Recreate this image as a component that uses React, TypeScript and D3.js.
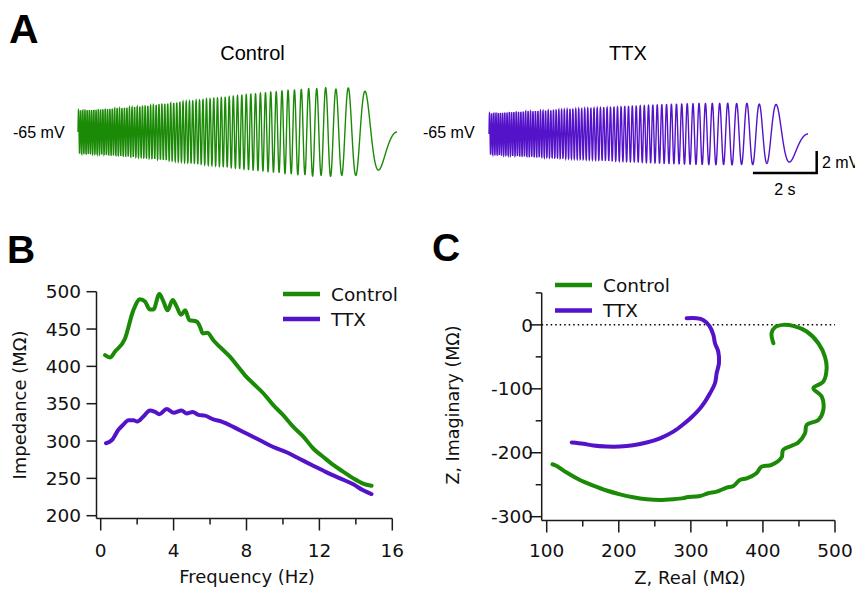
import React from "react";
import * as d3 from "d3";

// ---------- Data ----------
// Panel B: impedance profile (frequency in Hz, impedance in MΩ)
const freqControl = [0.24, 0.51, 0.79, 1.33, 1.79, 2.16, 2.43, 2.7, 2.89, 3.22, 3.44, 3.67, 3.95, 4.17, 4.4, 4.64, 4.86, 5.27, 5.45, 5.6, 5.85, 6.18, 6.54, 7.09, 7.46, 7.92, 8.37, 8.92, 9.47, 10.0, 10.57, 11.12, 11.66, 12.2, 12.76, 13.3, 13.86, 14.4, 14.86];
const zControl = [415, 412, 420, 437, 475, 490, 487, 476, 476, 497, 487, 475, 489, 480, 469, 475, 462, 460, 453, 444, 445, 435, 426, 413, 402, 388, 377, 364, 348, 335, 319, 306, 290, 279, 268, 259, 250, 243, 240];
const freqTTX = [0.29, 0.6, 0.97, 1.24, 1.52, 1.79, 2.01, 2.34, 2.7, 2.98, 3.22, 3.62, 3.99, 4.44, 4.72, 5.05, 5.36, 5.72, 6.18, 6.64, 7.28, 8.0, 8.74, 9.47, 10.2, 10.93, 11.66, 12.4, 13.13, 13.86, 14.4, 14.86];
const zTTX = [297, 301, 315, 322, 328, 328, 326, 333, 341, 339, 336, 343, 338, 341, 337, 339, 335, 334, 329, 326, 319, 310, 301, 292, 285, 276, 267, 258, 250, 242, 234, 229];

// Panel C: Nyquist plot (real / imaginary impedance, MΩ)
const realControl = [414.5, 412, 416.8, 428, 442, 460.7, 476.9, 486, 488.4, 483.8, 470, 481.5, 483.8, 476.9, 460.7, 458.4, 449, 428, 426, 412, 398, 391, 377.5, 368, 359, 349.7, 335.8, 324, 312.7, 294, 289.6, 275.7, 257, 238.7, 220, 201.7, 183, 164.7, 146, 127.7, 113.9, 108];
const imagControl = [-28.7, -13, -3.7, 0, -1.6, -10.4, -28.7, -49.6, -67.8, -88.7, -99, -112, -133, -148.7, -156.5, -169.5, -184, -195.6, -207, -219, -221.7, -232, -240, -242.6, -252, -254.6, -260.8, -263.4, -267.6, -269.7, -271, -272.8, -274, -272.8, -269.7, -265, -259, -251.4, -242.6, -231, -220.7, -218];
const realTTX = [294.2, 308, 317, 325.7, 331.2, 333.5, 338, 339, 335.8, 333.5, 326.6, 319.7, 311.8, 301, 289.6, 275.7, 257.2, 238.7, 220, 201.7, 183, 164.7, 150.9, 134.7];
const imagTTX = [10.4, 10.4, 7.8, -1.6, -15.6, -28.7, -41.7, -60, -75.6, -91.3, -107, -120, -132, -144.5, -155.5, -167, -177.4, -184, -188.3, -190.4, -190.4, -188.8, -186, -184];

// Panel A: chirp protocol (reverse chirp 15 Hz -> 0 Hz over 10 s)
const chirpStartHz = 15;
const chirpDurationS = 10;
const baselineMV = -65;
const stimulusNA = 0.0082; // MΩ * nA = mV
const scaleBarMV = 2;
const scaleBarS = 2;

// Ticks
const bXTicks = [0, 2, 4, 6, 8, 10, 12, 14, 16];
const bXLabels = [0, 4, 8, 12, 16];
const bYTicks = [200, 250, 300, 350, 400, 450, 500];
const cXTicks = [100, 150, 200, 250, 300, 350, 400, 450, 500];
const cXLabels = [100, 200, 300, 400, 500];
const cYTicks = [50, 0, -50, -100, -150, -200, -250, -300];
const cYLabels = [0, -100, -200, -300];

const GREEN = "#1b8a07";
const PURPLE = "#5412c9";
const AXIS = "#1a1a1a";
const GENEVA = "'DejaVu Sans', Verdana, sans-serif";
const ARIAL = "'Liberation Sans', Arial, sans-serif";

function chirpTrace(freqs: number[], zs: number[]) {
  const zOf = d3.scaleLinear().domain(freqs).range(zs).clamp(true);
  const n = 5000;
  const pts: [number, number][] = [];
  const k = chirpStartHz / chirpDurationS;
  for (let i = 0; i <= n; i++) {
    const t = (i / n) * chirpDurationS;
    const s = chirpDurationS - t;
    const f = k * s;
    const amp = zOf(f) * stimulusNA;
    const v = baselineMV + amp * Math.sin(-Math.PI * k * s * s);
    pts.push([t, v]);
  }
  return pts;
}

export default function App() {
  // ---------- Panel A scales ----------
  const tCtrl = d3.scaleLinear().domain([0, chirpDurationS]).range([78, 397]);
  const tTTX = d3.scaleLinear().domain([0, chirpDurationS]).range([489, 808]);
  const vCtrl = d3.scaleLinear().domain([baselineMV, baselineMV + 1]).range([132, 121]);
  const vTTX = d3.scaleLinear().domain([baselineMV, baselineMV + 1]).range([134, 123]);
  const trCtrl = chirpTrace(freqControl, zControl);
  const trTTX = chirpTrace(freqTTX, zTTX);
  const lineCtrlA = d3.line<[number, number]>().x((d) => tCtrl(d[0])).y((d) => vCtrl(d[1]));
  const lineTTXA = d3.line<[number, number]>().x((d) => tTTX(d[0])).y((d) => vTTX(d[1]));
  // scale bar in TTX panel coordinates
  const sbRight = 816.7;
  const sbBottom = 173;
  const pxPerS = tTTX(1) - tTTX(0);
  const pxPerMV = vTTX(baselineMV) - vTTX(baselineMV + 1);

  // ---------- Panel B scales ----------
  const bx = d3.scaleLinear().domain([0, 16]).range([100.7, 392.3]);
  const by = d3.scaleLinear().domain([200, 500]).range([515.7, 291.7]);
  const bAxisX = 96.5;
  const bAxisY = 518.5;
  const lineB = d3.line<[number, number]>().x((d) => bx(d[0])).y((d) => by(d[1])).curve(d3.curveMonotoneX);
  const bCtrl = freqControl.map((f, i) => [f, zControl[i]] as [number, number]);
  const bTTX = freqTTX.map((f, i) => [f, zTTX[i]] as [number, number]);

  // ---------- Panel C scales ----------
  const cx = d3.scaleLinear().domain([100, 500]).range([546.7, 835]);
  const cy = d3.scaleLinear().domain([-300, 50]).range([516.7, 292.9]);
  const cAxisX = 541.7;
  const cAxisY = 520.5;
  const lineC = d3.line<[number, number]>().x((d) => cx(d[0])).y((d) => cy(d[1])).curve(d3.curveCatmullRom.alpha(0.5));
  const cCtrl = realControl.map((r, i) => [r, imagControl[i]] as [number, number]);
  const cTTX = realTTX.map((r, i) => [r, imagTTX[i]] as [number, number]);

  return (
    <svg width={855} height={591} style={{ position: "absolute", left: 0, top: 0, background: "#fff" }}>
      <rect width={855} height={591} fill="#fff" />
      {/* ---------- Panel A ---------- */}
      <text x={9} y={43} fontFamily={ARIAL} fontWeight="bold" fontSize={41}>A</text>
      <text x={252.5} y={60} textAnchor="middle" fontFamily={ARIAL} fontSize={20}>Control</text>
      <text x={628} y={60} textAnchor="middle" fontFamily={ARIAL} fontSize={20}>TTX</text>
      <text x={13} y={138} fontFamily={ARIAL} fontSize={16}>-65 mV</text>
      <text x={423} y={138} fontFamily={ARIAL} fontSize={16}>-65 mV</text>
      <path d={lineCtrlA(trCtrl) || ""} fill="none" stroke={GREEN} strokeWidth={1.4} />
      <path d={lineTTXA(trTTX) || ""} fill="none" stroke={PURPLE} strokeWidth={1.4} />
      <path
        d={`M${sbRight - scaleBarS * pxPerS},${sbBottom}H${sbRight}V${sbBottom - scaleBarMV * pxPerMV}`}
        fill="none"
        stroke="#000"
        strokeWidth={2.5}
      />
      <text x={822} y={168} fontFamily={ARIAL} fontSize={16}>{`${scaleBarMV} mV`}</text>
      <text x={sbRight - (scaleBarS * pxPerS) / 2} y={195} textAnchor="middle" fontFamily={ARIAL} fontSize={16}>{`${scaleBarS} s`}</text>

      {/* ---------- Panel B ---------- */}
      <text x={7} y={263} fontFamily={ARIAL} fontWeight="bold" fontSize={39}>B</text>
      <g stroke={AXIS} strokeWidth={1.5} fill="none">
        <line x1={bAxisX} x2={bAxisX} y1={by(500)} y2={bAxisY} />
        <line x1={bAxisX} x2={bx(16)} y1={bAxisY} y2={bAxisY} />
        {bYTicks.map((t) => (
          <line key={t} x1={bAxisX - 10} x2={bAxisX} y1={by(t)} y2={by(t)} />
        ))}
        {bXTicks.map((t) => (
          <line key={t} x1={bx(t)} x2={bx(t)} y1={bAxisY} y2={bAxisY + (t % 4 === 0 ? 12 : 6)} />
        ))}
      </g>
      {bYTicks.map((t) => (
        <text key={t} x={81} y={by(t)} dy="0.36em" textAnchor="end" fontFamily={GENEVA} fontSize={18.5} fill="#111">{t}</text>
      ))}
      {bXLabels.map((t) => (
        <text key={t} x={bx(t)} y={557} textAnchor="middle" fontFamily={GENEVA} fontSize={18.5} fill="#111">{t}</text>
      ))}
      <text x={247} y={583} textAnchor="middle" fontFamily={GENEVA} fontSize={18} fill="#111">Frequency (Hz)</text>
      <text transform="translate(26,405) rotate(-90)" textAnchor="middle" fontFamily={GENEVA} fontSize={18} fill="#111">Impedance (MΩ)</text>
      <path d={lineB(bCtrl) || ""} fill="none" stroke={GREEN} strokeWidth={4} strokeLinejoin="round" strokeLinecap="round" />
      <path d={lineB(bTTX) || ""} fill="none" stroke={PURPLE} strokeWidth={4} strokeLinejoin="round" strokeLinecap="round" />
      <line x1={283} x2={320} y1={294} y2={294} stroke={GREEN} strokeWidth={4.5} />
      <line x1={283} x2={320} y1={319} y2={319} stroke={PURPLE} strokeWidth={4.5} />
      <text x={331} y={294} dy="0.36em" fontFamily={GENEVA} fontSize={18.5} fill="#111">Control</text>
      <text x={331} y={319} dy="0.36em" fontFamily={GENEVA} fontSize={18.5} fill="#111">TTX</text>

      {/* ---------- Panel C ---------- */}
      <text x={432} y={261} fontFamily={ARIAL} fontWeight="bold" fontSize={39}>C</text>
      <line x1={cAxisX} x2={cx(500)} y1={cy(0)} y2={cy(0)} stroke="#000" strokeWidth={1.5} strokeDasharray="1.5,3" />
      <g stroke={AXIS} strokeWidth={1.5} fill="none">
        <line x1={cAxisX} x2={cAxisX} y1={cy(50)} y2={cAxisY} />
        <line x1={cAxisX} x2={cx(500)} y1={cAxisY} y2={cAxisY} />
        {cYTicks.map((t) => (
          <line key={t} x1={cAxisX - (t % 100 === 0 ? 12 : 6)} x2={cAxisX} y1={cy(t)} y2={cy(t)} />
        ))}
        {cXTicks.map((t) => (
          <line key={t} x1={cx(t)} x2={cx(t)} y1={cAxisY} y2={cAxisY + (t % 100 === 0 ? 12 : 6)} />
        ))}
      </g>
      {cYLabels.map((t) => (
        <text key={t} x={533} y={cy(t)} dy="0.36em" textAnchor="end" fontFamily={GENEVA} fontSize={18.5} fill="#111">{t}</text>
      ))}
      {cXLabels.map((t) => (
        <text key={t} x={cx(t)} y={557} textAnchor="middle" fontFamily={GENEVA} fontSize={18.5} fill="#111">{t}</text>
      ))}
      <text x={690} y={584} textAnchor="middle" fontFamily={GENEVA} fontSize={18} fill="#111">Z, Real (MΩ)</text>
      <text transform="translate(459,405) rotate(-90)" textAnchor="middle" fontFamily={GENEVA} fontSize={17.5} fill="#111">Z, Imaginary (MΩ)</text>
      <path d={lineC(cCtrl) || ""} fill="none" stroke={GREEN} strokeWidth={4} strokeLinejoin="round" strokeLinecap="round" />
      <path d={lineC(cTTX) || ""} fill="none" stroke={PURPLE} strokeWidth={4} strokeLinejoin="round" strokeLinecap="round" />
      <line x1={555} x2={592} y1={285} y2={285} stroke={GREEN} strokeWidth={4.5} />
      <line x1={555} x2={592} y1={310.5} y2={310.5} stroke={PURPLE} strokeWidth={4.5} />
      <text x={603} y={285} dy="0.36em" fontFamily={GENEVA} fontSize={18.5} fill="#111">Control</text>
      <text x={603} y={310.5} dy="0.36em" fontFamily={GENEVA} fontSize={18.5} fill="#111">TTX</text>
    </svg>
  );
}
